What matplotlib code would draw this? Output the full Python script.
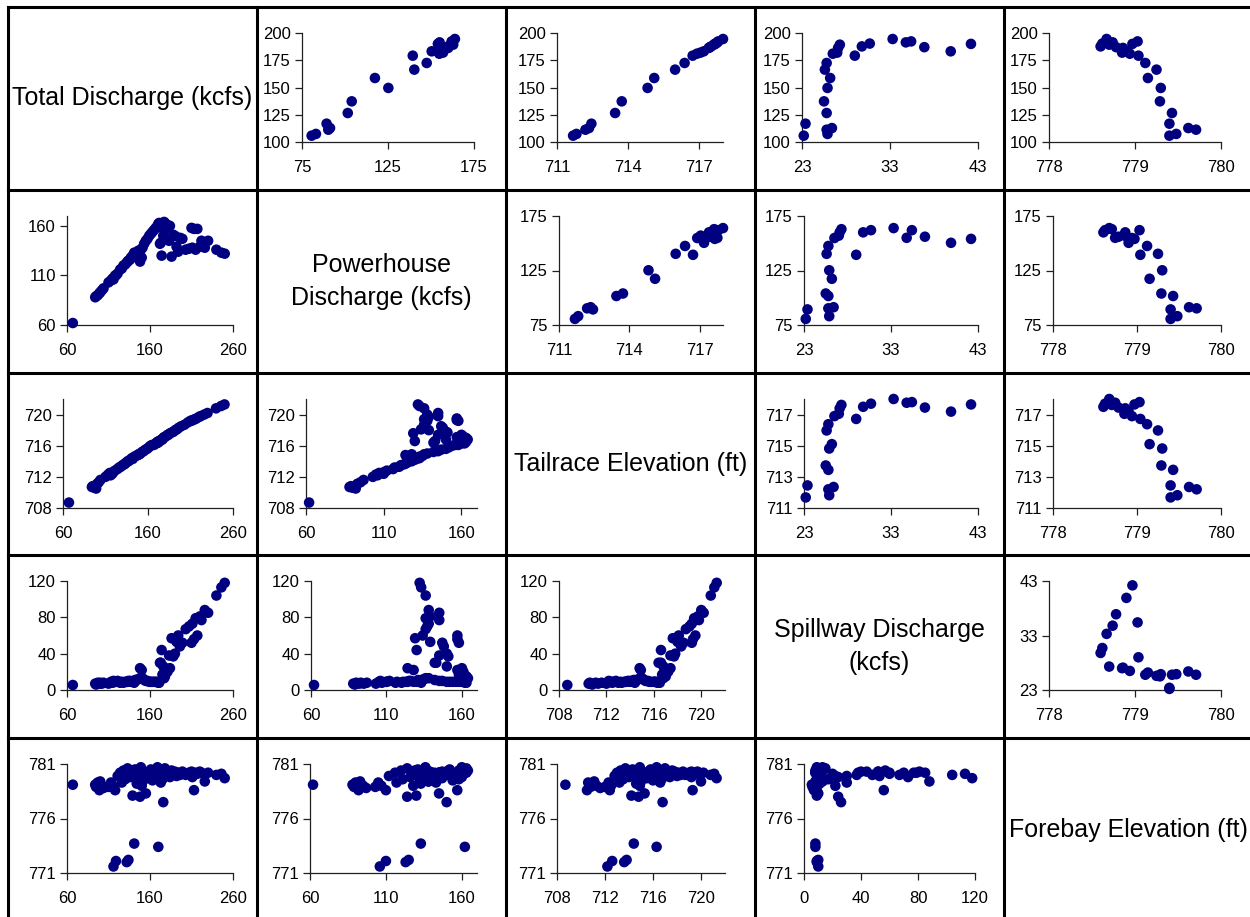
import matplotlib
matplotlib.use("Agg")
import matplotlib.pyplot as plt
from matplotlib.lines import Line2D

plt.rcParams['font.family'] = ['Liberation Sans', 'DejaVu Sans']

# variable names on the diagonal
labels = ['Total Discharge (kcfs)', 'Powerhouse\nDischarge (kcfs)', 'Tailrace Elevation (ft)',
          'Spillway Discharge\n(kcfs)', 'Forebay Elevation (ft)']

# lower triangle data (full record)
low_total = [67, 94, 95, 97, 99, 100, 102, 104, 110, 113, 115, 116, 118, 119, 121, 124, 126, 128, 130, 132,
             133, 134, 136, 137, 139, 141, 142, 144, 146, 148, 149, 150, 151, 153, 155, 157, 159, 161, 163, 165,
             167, 169, 170, 171, 172, 173, 174, 175, 176, 177, 178, 179, 181, 183, 184, 186, 188, 190, 192, 194,
             196, 199, 203, 207, 210, 211, 213, 215, 217, 220, 222, 226, 230, 240, 246, 250]
low_power = [62, 88, 89, 90, 92, 93, 95, 97, 103, 105, 107, 106, 110, 110, 112, 116, 117, 120, 121, 123,
             124, 125, 126, 128, 130, 133, 131, 133, 135, 124, 136, 128, 138, 142, 145, 147, 150, 152, 154, 156,
             158, 160, 162, 163, 142, 143, 130, 158, 150, 164, 163, 157, 161, 145, 160, 129, 151, 150, 139, 134,
             148, 147, 136, 137, 158, 138, 157, 136, 157, 139, 145, 138, 145, 136, 133, 132]
low_tail = [708.7, 710.7, 710.8, 710.6, 710.5, 711.1, 711.3, 711.6, 712.0, 712.3, 712.5, 712.2, 712.4, 712.6,
            712.8, 713.0, 713.2, 713.3, 713.5, 713.6, 713.7, 713.8, 714.0, 714.0, 714.2, 714.4, 714.3, 714.6,
            714.7, 714.8, 714.9, 714.9, 715.0, 715.2, 715.3, 715.5, 715.6, 715.8, 716.0, 716.1, 716.1, 716.3,
            716.3, 716.5, 716.4, 716.6, 716.6, 716.7, 716.8, 716.8, 717.0, 717.1, 717.2, 717.4, 717.4, 717.6,
            717.7, 717.8, 718.0, 718.1, 718.3, 718.5, 718.7, 719.0, 719.2, 719.2, 719.3, 719.4, 719.5, 719.7,
            719.8, 720.0, 720.2, 720.8, 721.1, 721.3]
low_spill = [5.5, 7, 6, 8, 7, 8, 7, 8, 7, 9, 8, 10, 9, 9, 10, 8, 9, 8, 9, 9,
             9, 10, 10, 9, 9, 8, 11, 11, 12, 24, 13, 22, 13, 11, 10, 10, 9, 9, 9, 9,
             9, 9, 8, 8, 30, 30, 44, 17, 26, 13, 15, 22, 20, 38, 24, 57, 37, 40, 53, 60,
             48, 52, 67, 70, 52, 73, 56, 79, 60, 81, 77, 88, 85, 104, 113, 118]
low_fore = [779.1, 779.1, 778.9, 779.3, 778.6, 779.4, 779.0, 778.8, 778.9, 779.3, 779.0, 771.6, 778.6, 772.1,
            779.9, 780.2, 779.3, 780.4, 779.6, 772.0, 780.6, 772.2, 779.8, 780.1, 778.1, 773.7, 780.5, 779.2,
            780.0, 778.0, 780.7, 779.0, 779.4, 780.2, 778.3, 779.7, 780.3, 780.5, 779.5, 780.0, 780.4, 780.7,
            773.4, 780.2, 779.9, 779.3, 780.3, 779.6, 777.5, 780.4, 780.6, 779.9, 780.1, 780.2, 779.8, 780.4,
            780.0, 780.3, 779.9, 780.2, 780.0, 780.3, 780.0, 780.2, 780.3, 779.8, 778.6, 780.2, 780.1, 780.3,
            780.2, 779.4, 780.2, 780.0, 780.1, 779.7]

# upper triangle data (spill periods)
up_total = [105.8, 107.4, 111.3, 112.8, 116.8, 126.6, 137.3, 149.6, 158.7, 166.4, 172.5, 179.2,
            181.0, 183.2, 186.3, 187.0, 189.3, 190.3, 191.4, 192.3, 194.5, 190.0, 187.7, 182.0]
up_power = [80.6, 83.1, 90.3, 91.3, 89.3, 101.6, 103.9, 125.2, 117.4, 140.3, 147.5, 139.4,
            154.8, 150.4, 160.0, 156.0, 162.9, 162.0, 155.0, 162.0, 163.9, 154.0, 160.0, 157.0]
up_tail = [711.68, 711.82, 712.20, 712.35, 712.45, 713.45, 713.73, 714.82, 715.10, 715.98, 716.38, 716.72,
           716.90, 717.19, 717.40, 717.45, 717.62, 717.70, 717.76, 717.80, 718.00, 717.65, 717.50, 717.05]
up_spill = [23.2, 25.9, 25.8, 26.4, 23.4, 25.8, 25.5, 25.9, 26.2, 25.6, 25.8, 29.0,
            26.5, 39.9, 27.1, 36.9, 27.3, 30.7, 34.8, 35.4, 33.3, 42.2, 29.8, 27.0]
up_fore = [779.40, 779.48, 779.71, 779.62, 779.40, 779.43, 779.29, 779.30, 779.15, 779.25, 779.12, 779.04,
           778.94, 778.90, 778.86, 778.78, 778.70, 778.62, 778.74, 779.03, 778.67, 778.97, 778.60, 778.85]

low_data = [low_total, low_power, low_tail, low_spill, low_fore]
up_data = [up_total, up_power, up_tail, up_spill, up_fore]

# axis ranges and ticks
low_lims = [(60, 260), (60, 170), (708, 722), (0, 120), (771, 781)]
low_ticks = [[60, 160, 260], [60, 110, 160], [708, 712, 716, 720], [0, 40, 80, 120], [771, 776, 781]]
up_lims = [(100, 200), (75, 175), (711, 718), (23, 43), (778, 780)]
up_xticks = [[100, 125, 150, 175, 200], [75, 125, 175], [711, 714, 717], [23, 33, 43], [778, 779, 780]]
up_yticks = [[100, 125, 150, 175, 200], [75, 125, 175], [711, 713, 715, 717], [23, 33, 43], [778, 779, 780]]

W, H = 1250, 917
cell_x = [8, 257, 506, 755, 1004]
cell_y = [7, 190, 373, 555, 738]
cw, ch = 249, 183

# plot area offsets inside each cell (pixels)
left_off = [[0, 45, 51, 47, 45],
            [59, 0, 53, 49, 49],
            [55, 49, 0, 49, 49],
            [59, 54, 53, 0, 45],
            [59, 53, 51, 49, 0]]
right_off = [[0, 217, 217, 223, 217],
             [225, 0, 217, 223, 217],
             [225, 220, 0, 223, 217],
             [225, 220, 219, 0, 217],
             [225, 220, 219, 220, 0]]
top_off, bot_off = 26, 135

navy = '#000080'

fig = plt.figure(figsize=(12.5, 9.17), dpi=100)

for i in range(5):
    for j in range(5):
        if i == j:
            fig.text((cell_x[j] + cw / 2) / W, 1 - (cell_y[i] + ch / 2) / H, labels[i],
                     ha='center', va='center', fontsize=18, linespacing=1.45)
            continue
        x0 = cell_x[j] + left_off[i][j]
        x1 = cell_x[j] + right_off[i][j]
        y0 = cell_y[i] + top_off
        y1 = cell_y[i] + bot_off
        ax = fig.add_axes([x0 / W, 1 - y1 / H, (x1 - x0) / W, (y1 - y0) / H])
        if j < i:
            xs, ys = low_data[j], low_data[i]
            xl, yl = low_lims[j], low_lims[i]
            xt, yt = low_ticks[j], low_ticks[i]
        else:
            xs, ys = up_data[j], up_data[i]
            xl, yl = up_lims[j], up_lims[i]
            xt, yt = up_xticks[j], up_yticks[i]
        ax.scatter(xs, ys, s=58, color=navy, edgecolors='none', clip_on=False, zorder=3)
        ax.set_xlim(xl)
        ax.set_ylim(yl)
        ax.set_xticks(xt)
        ax.set_yticks(yt)
        ax.set_facecolor('none')
        for side in ['top', 'right']:
            ax.spines[side].set_visible(False)
        for side in ['left', 'bottom']:
            ax.spines[side].set_linewidth(0.9)
            ax.spines[side].set_color('#202020')
        ax.tick_params(direction='out', length=5, width=0.9, color='#202020', labelsize=12)
        ax.tick_params(axis='x', pad=8)
        ax.tick_params(axis='y', pad=3)

# cell borders
for x in cell_x:
    fig.add_artist(Line2D([x / W, x / W], [1 - 7 / H, 0], color='black', lw=2.2))
for y in cell_y:
    fig.add_artist(Line2D([8 / W, 1], [1 - y / H, 1 - y / H], color='black', lw=2.2))

fig.savefig('out.png', dpi=100)
